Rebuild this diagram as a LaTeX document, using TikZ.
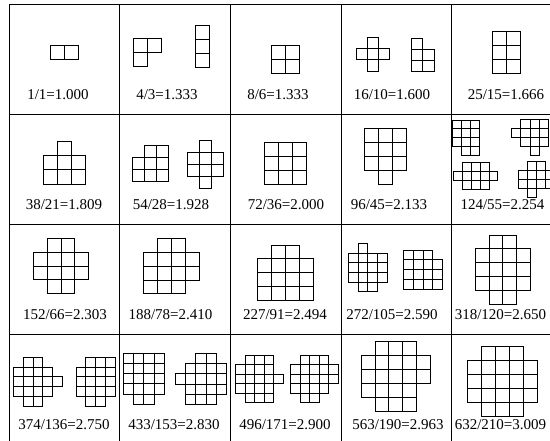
\documentclass[tikz,border=0pt]{standalone}
\usepackage{fontspec}
\setmainfont{Liberation Serif}
\tikzset{
  cell/.style={draw=black, line width=0.8pt},
  tline/.style={draw=black, line width=0.9pt},
  lab/.style={anchor=base, inner sep=0pt, font=\fontsize{15}{18}\selectfont},
}
\newcommand{\polyrows}[4]{%
  \foreach \rr/\ca/\cb in {#4}{%
    \foreach \cc in {\ca,...,\cb}{%
      \draw[cell] ({#1+\cc*#3},{#2+\rr*#3}) rectangle ++(#3,#3);}}}
\begin{document}
\begin{tikzpicture}[x=1pt,y=-1pt]
\useasboundingbox (0,0) rectangle (550,441);
\begin{scope}
  \clip (0,0) rectangle (550,441);
  \draw[tline] (9,4) rectangle (561,444);
  \foreach \x in {119,230,341,451} \draw[tline] (\x,4) -- (\x,444);
  \foreach \y in {114,224,334} \draw[tline] (9,\y) -- (561,\y);
\end{scope}
% row 1
\polyrows{50}{45}{14}{0/0/1}
\polyrows{133.5}{38.5}{14}{0/0/1,1/0/0}
\polyrows{195}{25}{14}{0/0/0,1/0/0,2/0/0}
\polyrows{271.5}{45}{14}{0/0/1,1/0/1}
\polyrows{356}{37.7}{11.1}{0/1/1,1/0/2,2/1/1}
\polyrows{411.7}{38.3}{11.1}{0/0/0,1/0/1,2/0/1}
\polyrows{492.3}{31.7}{13.9}{0/0/1,1/0/1,2/0/1}
% row 2
\polyrows{43.3}{141.7}{14.1}{0/1/1,1/0/2,2/0/2}
\polyrows{132.7}{145}{12}{0/1/2,1/0/2,2/0/2}
\polyrows{187.3}{140}{12}{0/1/1,1/0/2,2/0/2,3/1/1}
\polyrows{264.3}{142.3}{13.9}{0/0/2,1/0/2,2/0/2}
\polyrows{364}{128.3}{14}{0/0/2,1/0/2,2/0/2,3/1/1}
\polyrows{452.7}{120}{8.9}{0/0/2,1/0/2,2/0/2,3/1/2}
\polyrows{511.7}{119}{9.1}{0/1/3,1/0/3,2/1/3,3/2/2}
\polyrows{453.3}{162.3}{8.9}{0/1/3,1/0/4,2/1/3}
\polyrows{518.3}{161.7}{9}{0/1/2,1/0/3,2/0/3,3/1/1}
% row 3
\polyrows{33.3}{238.3}{13.85}{0/1/2,1/0/3,2/0/3,3/1/2}
\polyrows{143.3}{238.3}{13.9}{0/1/2,1/0/3,2/0/3,3/0/2}
\polyrows{257.7}{245}{13.9}{0/1/2,1/0/3,2/0/3,3/0/3}
\polyrows{348.3}{243.3}{9.7}{0/1/1,1/0/3,2/0/3,3/0/3,4/1/2}
\polyrows{403.3}{250}{9.8}{0/0/2,1/0/3,2/0/3,3/0/3}
\polyrows{475}{235}{13.9}{0/1/2,1/0/3,2/0/3,3/0/3,4/1/2}
% row 4
\polyrows{13.3}{357.3}{9.8}{0/1/2,1/0/3,2/0/4,3/0/3,4/1/2}
\polyrows{76}{357.3}{9.75}{0/1/3,1/0/3,2/0/3,3/0/3,4/1/2}
\polyrows{123.3}{353.3}{10.2}{0/0/3,1/0/3,2/0/3,3/0/3,4/1/2}
\polyrows{175}{353.3}{10.3}{0/2/3,1/1/4,2/0/4,3/1/4,4/1/3}
\polyrows{235.7}{355}{9.5}{0/1/3,1/0/3,2/0/4,3/0/3,4/1/3}
\polyrows{290.7}{355}{9.5}{0/1/3,1/0/4,2/0/4,3/0/3,4/1/2}
\polyrows{361}{341.7}{13.9}{0/1/3,1/0/4,2/0/4,3/0/3,4/1/3}
\polyrows{467}{346}{14}{0/1/3,1/0/4,2/0/4,3/0/4,4/1/3}
% labels
\node[lab] (l1)  at (58,100)   {1/1=1.000};
\node[lab] (l2)  at (167,100)  {4/3=1.333};
\node[lab] (l3)  at (278,100)  {8/6=1.333};
\node[lab] (l4)  at (392,100)  {16/10=1.600};
\node[lab] (l5)  at (506,100)  {25/15=1.666};
\node[lab] (l6)  at (64,210)   {38/21=1.809};
\node[lab] (l7)  at (171,210)  {54/28=1.928};
\node[lab] (l8)  at (286,210)  {72/36=2.000};
\node[lab] (l9)  at (389,210)  {96/45=2.133};
\node[lab] (l10) at (502.5,210) {124/55=2.254};
\node[lab] (l11) at (65,320)   {152/66=2.303};
\node[lab] (l12) at (170.5,320) {188/78=2.410};
\node[lab] (l13) at (285,320)  {227/91=2.494};
\node[lab] (l14) at (392,320)  {272/105=2.590};
\node[lab] (l15) at (500.5,320) {318/120=2.650};
\node[lab] (l16) at (64,430)   {374/136=2.750};
\node[lab] (l17) at (174,430)  {433/153=2.830};
\node[lab] (l18) at (285,430)  {496/171=2.900};
\node[lab] (l19) at (398,430)  {563/190=2.963};
\node[lab] (l20) at (500.5,430) {632/210=3.009};
\end{tikzpicture}
\end{document}
